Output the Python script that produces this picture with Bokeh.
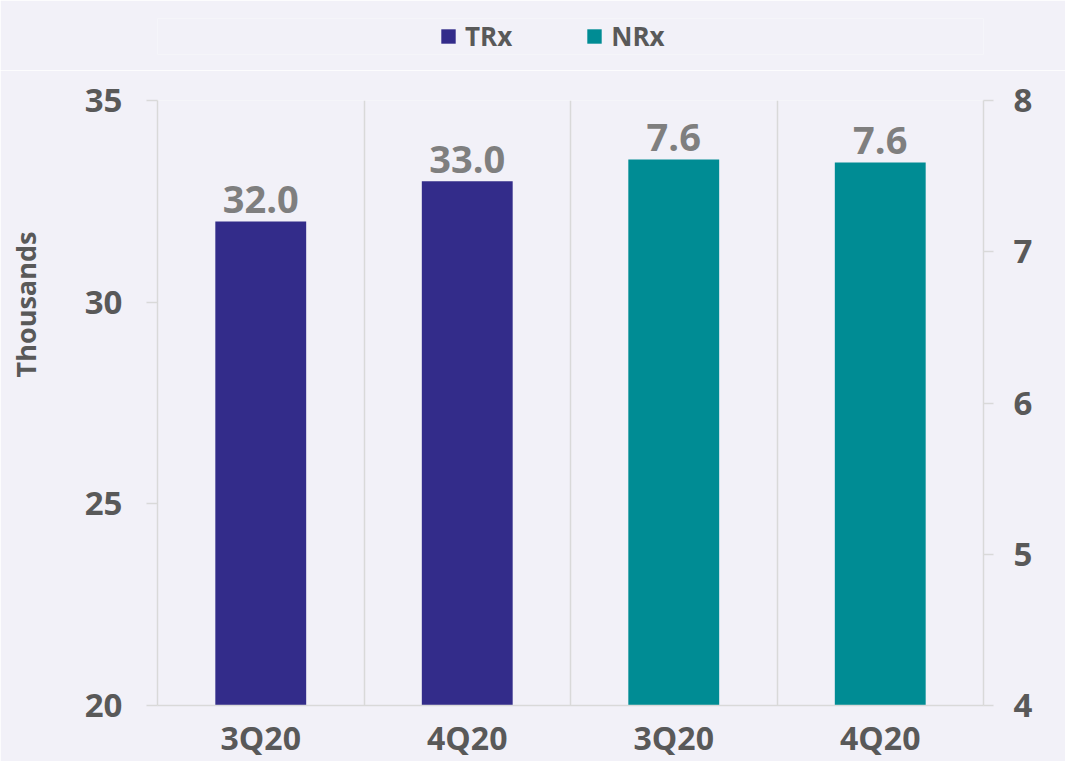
import numpy as np
from bokeh.plotting import figure
from bokeh.layouts import column
from bokeh.models import (Range1d, LinearAxis, FixedTicker, Legend, LegendItem,
                          Label)
from bokeh.core.properties import value
from bokeh.embed import file_html
from bokeh.resources import INLINE

# ---- data ----
periods = ["3Q20", "4Q20", "3Q20", "4Q20"]
series = ["TRx", "NRx"]
trx_values = [32.0, 33.0]      # thousands (left axis)
nrx_values = [7.61, 7.59]      # thousands (right axis)
left_ticks = [20, 25, 30, 35]
right_ticks = [4, 5, 6, 7, 8]
axis_title = "Thousands"

# ---- style ----
BG = "#f2f1f8"
TRX_C = "#332c8a"
NRX_C = "#008c94"
AXIS_C = "#d9d9d9"
TICK_TXT = "#595959"
VAL_TXT = "#7f7f7f"
FONT = "Open Sans"
W = 1065
BL, BR = 157, 82   # shared left / right borders so the two frames line up

n = len(periods)
xpos = [float(v) for v in np.arange(n) + 0.5]
trx_x = xpos[:len(trx_values)]
nrx_x = xpos[len(trx_values):]

# ---------- legend strip ----------
top = figure(width=W, height=70, output_backend="svg", toolbar_location=None,
             x_axis_type=None, y_axis_type=None,
             x_range=Range1d(0, 1), y_range=Range1d(0, 1),
             min_border_left=BL, min_border_right=BR, min_border_top=18,
             min_border_bottom=16, background_fill_color=BG,
             border_fill_color=BG, outline_line_color=None)
top.xgrid.visible = False
top.ygrid.visible = False
# zero-height proxies: they only lend their colours to the legend swatches
lr1 = top.vbar(x=[0], top=[0], bottom=[0], width=0.01, fill_color=TRX_C,
               line_color=None)
lr2 = top.vbar(x=[0], top=[0], bottom=[0], width=0.01, fill_color=NRX_C,
               line_color=None)
legend = Legend(items=[LegendItem(label=series[0], renderers=[lr1]),
                       LegendItem(label=series[1], renderers=[lr2])],
                orientation="horizontal", location=(282, 0),
                border_line_color=None, background_fill_alpha=0,
                padding=0, margin=0, glyph_width=18, glyph_height=18,
                label_standoff=8, spacing=73,
                label_text_font=FONT, label_text_font_style="bold",
                label_text_font_size="26px", label_text_color=TICK_TXT)
top.add_layout(legend)

# ---------- main chart ----------
p = figure(width=W, height=691, output_backend="svg", toolbar_location=None,
           x_range=Range1d(0, n), y_range=Range1d(left_ticks[0], left_ticks[-1]),
           min_border_left=BL, min_border_right=BR, min_border_top=30,
           min_border_bottom=55,
           background_fill_color=BG, border_fill_color=BG,
           outline_line_color=None)
p.extra_y_ranges = {"right": Range1d(right_ticks[0], right_ticks[-1])}

# grids
p.ygrid.visible = False
p.xgrid.ticker = FixedTicker(ticks=[float(v) for v in np.arange(1, n)])
p.xgrid.grid_line_color = AXIS_C
p.xgrid.grid_line_width = 1.5

# bottom axis: category labels
xa = p.xaxis[0]
xa.ticker = FixedTicker(ticks=xpos)
xa.major_label_overrides = {x: t for x, t in zip(xpos, periods)}
xa.axis_line_color = AXIS_C
xa.axis_line_width = 1.5
xa.major_tick_line_color = None
xa.minor_tick_line_color = None
xa.major_tick_out = 0
xa.minor_tick_out = 0
xa.major_label_standoff = 10
xa.major_label_text_font = FONT
xa.major_label_text_font_style = "bold"
xa.major_label_text_font_size = "32px"
xa.major_label_text_color = TICK_TXT

def style_y(ax, tick_out, standoff):
    ax.axis_line_color = AXIS_C
    ax.axis_line_width = 1.5
    ax.major_tick_line_color = AXIS_C
    ax.major_tick_line_width = 1.5
    ax.major_tick_out = tick_out
    ax.major_tick_in = 0
    ax.minor_tick_line_color = None
    ax.minor_tick_out = 0
    ax.major_label_standoff = standoff
    ax.major_label_text_font = FONT
    ax.major_label_text_font_style = "bold"
    ax.major_label_text_font_size = "33px"
    ax.major_label_text_color = TICK_TXT

ya = p.yaxis[0]
ya.ticker = FixedTicker(ticks=left_ticks)
style_y(ya, 11, 24)

ra = LinearAxis(y_range_name="right", ticker=FixedTicker(ticks=right_ticks))
style_y(ra, 10, 20)
p.add_layout(ra, "right")

# axis title placed in the left side panel, upper part like the original
p.add_layout(Label(x=-19, y=401, x_units="screen", y_units="screen",
                   text=axis_title, angle=np.pi / 2, text_align="center",
                   text_baseline="middle", text_font=FONT,
                   text_font_style="bold", text_font_size="27px",
                   text_color=TICK_TXT), "left")

# bars
p.vbar(x=trx_x, top=trx_values, bottom=left_ticks[0], width=0.44,
       fill_color=TRX_C, line_color=None)
p.vbar(x=nrx_x, top=nrx_values, bottom=right_ticks[0], width=0.44,
       fill_color=NRX_C, line_color=None, y_range_name="right")

# value labels
lbl_kw = dict(text_align="center", text_baseline="alphabetic", y_offset=-22,
              text_font=value(FONT), text_font_style="bold",
              text_font_size="38px", text_color=VAL_TXT)
p.text(x=trx_x, y=trx_values, text=[f"{v:.1f}" for v in trx_values], **lbl_kw)
p.text(x=nrx_x, y=nrx_values, text=[f"{v:.1f}" for v in nrx_values],
       y_range_name="right", **lbl_kw)

layout = column(top, p, spacing=0)
open("out.html", "w").write(file_html(layout, INLINE))
